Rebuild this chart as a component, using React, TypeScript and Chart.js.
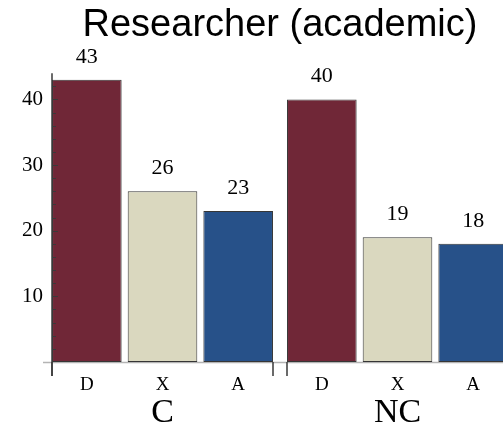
import React, { useEffect, useRef } from 'react';
import { Chart, registerables } from 'chart.js';

Chart.register(...registerables);

const chartTitle = 'Researcher (academic)';
const groups = ['C', 'NC'];
const categories = ['D', 'X', 'A'];
const valuesC = [43, 26, 23];
const valuesNC = [40, 19, 18];
const yTickLabels = [10, 20, 30, 40];
const yMax = 44;
const minorStep = 2;
const barColors = ['#702737', '#dad8bf', '#275189'];

const SERIF = "'Liberation Serif', 'Times New Roman', serif";
const SANS = "'Liberation Sans', Arial, sans-serif";
const INSET = 3;

function makePanelPlugin(values: number[], showYAxis: boolean, lineFrom: number, lineTo: number) {
  return {
    id: 'panelDeco',
    beforeDatasetsDraw(chart: any) {
      const { ctx, chartArea } = chart;
      ctx.save();
      ctx.strokeStyle = '#b4b4b4';
      ctx.lineWidth = 1.5;
      ctx.beginPath();
      ctx.moveTo(lineFrom, chartArea.bottom + 0.5);
      ctx.lineTo(lineTo, chartArea.bottom + 0.5);
      ctx.stroke();
      ctx.restore();
    },
    afterDraw(chart: any) {
      const { ctx, chartArea } = chart;
      const y = chart.scales.y;
      const l = chartArea.left + INSET;
      const r = chartArea.right - INSET;
      ctx.save();
      ctx.strokeStyle = '#3a3a3a';
      ctx.lineWidth = 1.5;
      ctx.beginPath();
      ctx.moveTo(l, chartArea.bottom);
      ctx.lineTo(l, chartArea.bottom + 14);
      ctx.moveTo(r, chartArea.bottom);
      ctx.lineTo(r, chartArea.bottom + 14);
      ctx.stroke();
      if (showYAxis) {
        ctx.beginPath();
        ctx.moveTo(l, chartArea.top);
        ctx.lineTo(l, chartArea.bottom + 14);
        ctx.stroke();
        ctx.lineWidth = 1;
        ctx.beginPath();
        for (let v = minorStep; v < yMax; v += minorStep) {
          const py = Math.round(y.getPixelForValue(v)) + 0.5;
          const len = yTickLabels.includes(v) ? 6 : 4;
          ctx.moveTo(l, py);
          ctx.lineTo(l + len, py);
        }
        ctx.stroke();
      }
      const meta = chart.getDatasetMeta(0);
      ctx.fillStyle = '#000';
      ctx.font = `22px ${SERIF}`;
      ctx.textAlign = 'center';
      ctx.textBaseline = 'middle';
      meta.data.forEach((bar: any, i: number) => {
        ctx.fillText(String(values[i]), bar.x, bar.y - 23);
      });
      ctx.restore();
    },
  };
}

function xScale(groupLabel: string) {
  return {
    type: 'category',
    grid: { display: false, drawTicks: false },
    border: { display: false },
    ticks: { font: { family: SERIF, size: 19 }, color: '#000', padding: 12 },
    title: {
      display: true,
      text: groupLabel,
      font: { family: SERIF, size: 34, lineHeight: 1.1 },
      color: '#000',
      padding: { top: 0, bottom: 0 },
    },
    afterFit: (s: any) => {
      s.height = 70;
    },
  };
}

function dataset(values: number[]) {
  return {
    data: values,
    backgroundColor: barColors,
    borderColor: '#363636',
    borderWidth: 1,
    borderSkipped: false,
    categoryPercentage: 1,
    barPercentage: 0.92,
  };
}

export default function App() {
  const leftRef = useRef<HTMLCanvasElement>(null);
  const rightRef = useRef<HTMLCanvasElement>(null);

  useEffect(() => {
    const right = new Chart(rightRef.current as HTMLCanvasElement, {
      type: 'bar',
      data: { labels: categories, datasets: [dataset(valuesNC)] as any },
      options: {
        responsive: false,
        animation: false,
        events: [],
        layout: { padding: 0 },
        plugins: {
          legend: { display: false },
          tooltip: { enabled: false },
          title: {
            display: true,
            text: chartTitle,
            color: '#000',
            font: { family: SANS, size: 38, weight: 'normal' },
            padding: { top: 2.4, bottom: 25.2 },
          },
        },
        scales: {
          x: xScale(groups[1]) as any,
          y: {
            min: 0,
            max: yMax,
            grid: { display: false, drawTicks: false },
            border: { display: false },
            ticks: { display: false },
            afterFit: (s: any) => {
              s.width = 284;
            },
          },
          yR: {
            type: 'linear',
            position: 'right',
            grid: { display: false, drawTicks: false },
            border: { display: false },
            ticks: { display: false },
            afterFit: (s: any) => {
              s.width = 49;
            },
          },
        },
      },
      plugins: [makePanelPlugin(valuesNC, false, 280, 560)],
    } as any);

    const left = new Chart(leftRef.current as HTMLCanvasElement, {
      type: 'bar',
      data: { labels: categories, datasets: [dataset(valuesC)] as any },
      options: {
        responsive: false,
        animation: false,
        events: [],
        layout: { padding: { top: 73.2, right: 4, left: 0, bottom: 0 } },
        plugins: {
          legend: { display: false },
          tooltip: { enabled: false },
          title: { display: false },
        },
        scales: {
          x: xScale(groups[0]) as any,
          y: {
            min: 0,
            max: yMax,
            grid: { display: false, drawTicks: false },
            border: { display: false },
            ticks: {
              stepSize: 10,
              autoSkip: false,
              font: { family: SERIF, size: 21 },
              color: '#000',
              padding: 6,
              callback: (v: any) => (yTickLabels.includes(Number(v)) ? String(v) : null),
            },
            afterFit: (s: any) => {
              s.width = 49;
            },
          },
        },
      },
      plugins: [makePanelPlugin(valuesC, true, 43, 280)],
    } as any);

    return () => {
      left.destroy();
      right.destroy();
    };
  }, []);

  return (
    <div
      style={{
        position: 'absolute',
        left: 0,
        top: 0,
        width: 503,
        height: 432,
        overflow: 'hidden',
        background: '#fff',
      }}
    >
      <canvas
        ref={rightRef}
        width={560}
        height={432}
        style={{ position: 'absolute', left: 0, top: 0, width: 560, height: 432 }}
      />
      <canvas
        ref={leftRef}
        width={280}
        height={432}
        style={{ position: 'absolute', left: 0, top: 0, width: 280, height: 432 }}
      />
    </div>
  );
}
